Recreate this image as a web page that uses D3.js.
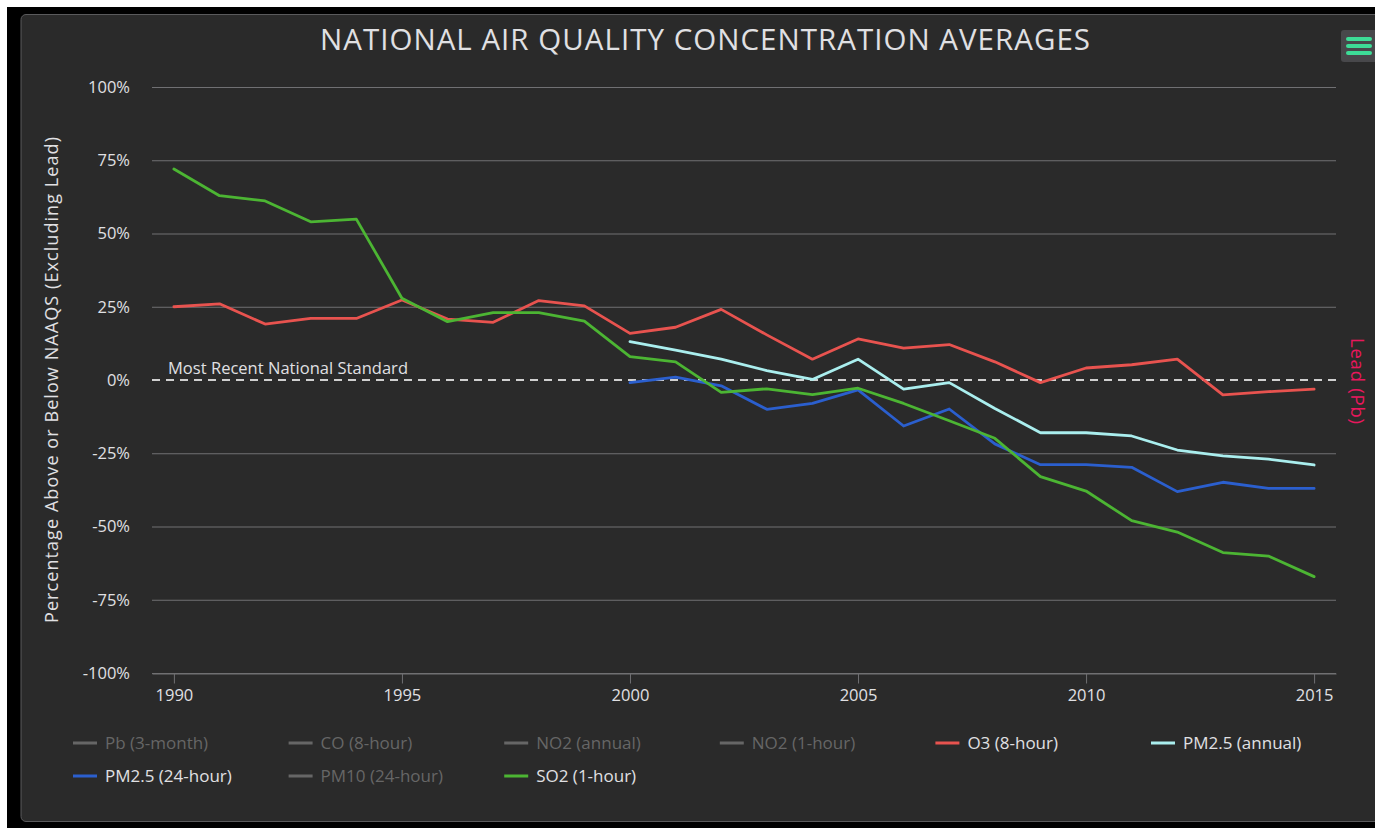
<!DOCTYPE html>
<html><head><meta charset="utf-8">
<script src="https://cdn.jsdelivr.net/npm/d3@7"></script>
<style>
html,body{margin:0;padding:0;background:#fff;}
svg{display:block;}
text{font-family:"Open Sans",sans-serif;}
</style></head>
<body>
<svg id="chart" width="1375" height="828"></svg>
<script>
const years = d3.range(1990, 2016);
const years2000 = d3.range(2000, 2016);
const so2 = [72.0,62.9,61.1,54.0,54.9,27.9,19.9,23.0,23.0,20.1,8.0,6.2,-4.2,-3.0,-5.0,-2.8,-8.0,-13.9,-19.9,-33.0,-37.9,-48.0,-51.9,-58.9,-60.1,-67.1];
const o3 = [25.0,26.0,19.1,21.0,21.0,27.3,20.8,19.7,27.1,25.3,15.9,18.0,24.1,15.4,7.1,14.0,10.9,12.1,6.2,-0.9,4.1,5.2,7.1,-5.1,-4.0,-3.1];
const pm25Annual = [13.1,10.2,7.1,3.2,0.2,7.1,-3.1,-0.9,-9.7,-18.0,-18.0,-19.1,-23.9,-25.9,-27.0,-29.0];
const pm25Daily = [-0.9,1.0,-2.0,-10.0,-8.0,-3.4,-15.7,-9.9,-21.8,-28.9,-28.9,-29.8,-38.1,-34.9,-37.0,-37.0];
const yTicks = [-100,-75,-50,-25,0,25,50,75,100];
const xTicks = [1990,1995,2000,2005,2010,2015];
const legendNames = ["Pb (3-month)","CO (8-hour)","NO2 (annual)","NO2 (1-hour)","O3 (8-hour)","PM2.5 (annual)","PM2.5 (24-hour)","PM10 (24-hour)","SO2 (1-hour)"];
const legendVisible = [false,false,false,false,true,true,true,false,true];
const legendColors = ["#666","#666","#666","#666","#e8534f","#aaeeee","#2b5fce","#666","#4cb533"];

const seriesList = [
  {name:"O3 (8-hour)", x:years, v:o3, color:"#e8534f"},
  {name:"PM2.5 (annual)", x:years2000, v:pm25Annual, color:"#aaeeee"},
  {name:"PM2.5 (24-hour)", x:years2000, v:pm25Daily, color:"#2b5fce"},
  {name:"SO2 (1-hour)", x:years, v:so2, color:"#4cb533"}
];

const svg = d3.select("#chart");
svg.append("rect").attr("x",0).attr("y",0).attr("width",1375).attr("height",828).attr("fill","#fff");
svg.append("rect").attr("x",7).attr("y",7).attr("width",1368).attr("height",821).attr("fill","#000");
svg.append("rect").attr("x",21).attr("y",14.5).attr("width",1370).attr("height",807)
  .attr("rx",5).attr("fill","#2a2a2a").attr("stroke","#5a5a5c").attr("stroke-width",1);

const L=152, R=1336, T=87, B=673;
const x = d3.scaleLinear().domain([1989.52, 2015.48]).range([L,R]);
const y = d3.scaleLinear().domain([-100,100]).range([B,T]);

// title
svg.append("text").attr("x",705).attr("y",50).attr("text-anchor","middle")
  .attr("fill","#e0e0e3").attr("font-size",29.5).attr("font-family","Lato, sans-serif")
  .attr("textLength",770).attr("lengthAdjust","spacing")
  .text("NATIONAL AIR QUALITY CONCENTRATION AVERAGES");

// grid lines
svg.append("g").selectAll("line").data(yTicks.filter(d=>d!==0)).join("line")
  .attr("x1",L).attr("x2",R).attr("y1",d=>y(d)+0.5).attr("y2",d=>y(d)+0.5)
  .attr("stroke","#707073").attr("stroke-width",1);

// y axis labels
const yAxis = d3.axisLeft(y).tickValues(yTicks).tickFormat(d=>d+"%").tickSize(0).tickPadding(0);
const gy = svg.append("g").attr("transform",`translate(${130},0)`).call(yAxis);
gy.select(".domain").remove();
gy.selectAll("text").attr("fill","#e0e0e3").attr("font-size",16.5).attr("font-family","Open Sans, sans-serif");

// x axis
const xAxis = d3.axisBottom(x).tickValues(xTicks).tickFormat(d3.format("d")).tickSize(10).tickSizeOuter(0).tickPadding(6);
const gx = svg.append("g").attr("transform",`translate(0,${B+0.5})`).call(xAxis);
gx.select(".domain").attr("stroke","#707073");
gx.selectAll(".tick line").attr("stroke","#707073");
gx.selectAll("text").attr("fill","#e0e0e3").attr("font-size",16.5).attr("font-family","Open Sans, sans-serif");

// zero dashed standard line
svg.append("line").attr("x1",L).attr("x2",R).attr("y1",y(0)).attr("y2",y(0))
  .attr("stroke","#d0d0d0").attr("stroke-width",2).attr("stroke-dasharray","8,6");
svg.append("text").attr("x",168).attr("y",y(0)-6).attr("fill","#e0e0e3").attr("font-size",16.5)
  .attr("textLength",240).attr("lengthAdjust","spacing")
  .text("Most Recent National Standard");

// axis titles
svg.append("text").attr("transform",`translate(58,${380}) rotate(-90)`).attr("text-anchor","middle")
  .attr("fill","#e0e0e3").attr("font-size",18).attr("textLength",486).attr("lengthAdjust","spacing")
  .text("Percentage Above or Below NAAQS (Excluding Lead)");
svg.append("text").attr("transform",`translate(1351,${381}) rotate(90)`).attr("text-anchor","middle")
  .attr("fill","#e8175d").attr("font-size",18.5).attr("textLength",86).attr("lengthAdjust","spacing")
  .text("Lead (Pb)");

// lines
const line = d3.line().x(d=>x(d[0])).y(d=>y(d[1]));
svg.append("g").selectAll("path").data(seriesList).join("path")
  .attr("d",s=>line(s.x.map((yr,i)=>[yr,s.v[i]])))
  .attr("fill","none").attr("stroke",s=>s.color).attr("stroke-width",2.8)
  .attr("stroke-linejoin","round").attr("stroke-linecap","round");

// legend
const lg = svg.append("g");
legendNames.forEach((n,i)=>{
  const col = i%6, row = Math.floor(i/6);
  const lx = 73 + col*215.6, ly = 743 + row*33;
  lg.append("line").attr("x1",lx).attr("x2",lx+24).attr("y1",ly).attr("y2",ly)
    .attr("stroke",legendColors[i]).attr("stroke-width",3);
  lg.append("text").attr("x",lx+32).attr("y",ly+6).attr("font-size",17)
    .attr("fill",legendVisible[i]?"#e0e0e3":"#666").text(n);
});

// menu button
svg.append("rect").attr("x",1341).attr("y",30).attr("width",36).attr("height",32).attr("rx",3).attr("fill","#48484b");
[39,46,53].forEach(yy=>{
  svg.append("line").attr("x1",1348).attr("x2",1370).attr("y1",yy).attr("y2",yy)
    .attr("stroke","#3ddc97").attr("stroke-width",4).attr("stroke-linecap","round");
});
</script>
</body></html>
